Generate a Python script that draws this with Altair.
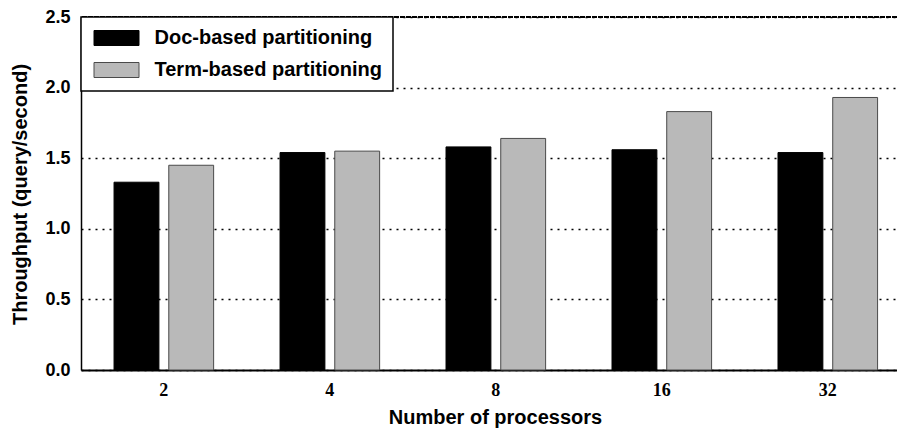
import altair as alt
import pandas as pd

processors = ["2", "4", "8", "16", "32"]
series = ["Doc-based partitioning", "Term-based partitioning"]
doc_based = [1.33, 1.54, 1.58, 1.56, 1.54]
term_based = [1.45, 1.55, 1.64, 1.83, 1.93]
y_ticks = [0.0, 0.5, 1.0, 1.5, 2.0, 2.5]
fill_colors = ["#000000", "#b9b9b9"]
stroke_colors = ["#000000", "#4a4a4a"]

rows = []
for p, d, t in zip(processors, doc_based, term_based):
    rows.append({"procs": p, "series": series[0], "value": d})
    rows.append({"procs": p, "series": series[1], "value": t})
df = pd.DataFrame(rows)

bars = alt.Chart(df).mark_bar(strokeWidth=1).encode(
    x=alt.X(
        "procs:N",
        sort=processors,
        scale=alt.Scale(paddingInner=0.4, paddingOuter=0.158, align=0.63),
        axis=alt.Axis(
            title="Number of processors",
            labelAngle=0,
            labelFont="Liberation Serif",
            labelFontWeight="bold",
            labelFontSize=18,
            labelColor="black",
            labelPadding=11,
            ticks=False,
            domainColor="black",
            domainWidth=2,
            grid=False,
            titleFont="Liberation Sans",
            titleFontWeight="bold",
            titleFontSize=20,
            titleColor="black",
            titlePadding=8,
            titleX=414,
        ),
    ),
    xOffset=alt.XOffset("series:N", sort=series, scale=alt.Scale(paddingInner=0.18)),
    y=alt.Y(
        "value:Q",
        scale=alt.Scale(domain=[0, 2.5], nice=False, zero=True),
        axis=alt.Axis(
            values=y_ticks,
            format=".1f",
            labelFont="Liberation Sans",
            labelFontWeight="bold",
            labelFontSize=18,
            labelColor="black",
            labelPadding=11,
            ticks=False,
            domainColor="black",
            domainWidth=1.5,
            grid=True,
            gridColor="black",
            gridDash=[2, 5],
            gridWidth=1.5,
            title="Throughput (query/second)",
            titleFont="Liberation Sans",
            titleFontWeight="bold",
            titleFontSize=20,
            titleColor="black",
            titleX=-61,
            titleY=177,
            titleAngle=270,
            titleAlign="center",
            titleBaseline="middle",
        ),
    ),
    color=alt.Color(
        "series:N",
        sort=series,
        scale=alt.Scale(domain=series, range=fill_colors),
        legend=alt.Legend(
            title=None,
            orient="none",
            legendX=0,
            legendY=0,
            direction="vertical",
            symbolType="M-3,-1L3,-1L3,1L-3,1Z",
            symbolSize=225,
            symbolStrokeWidth=1,
            symbolOffset=14.5,
            symbolOpacity=1,
            labelFont="Liberation Sans",
            labelFontWeight="bold",
            labelFontSize=20,
            labelColor="black",
            labelOffset=28,
            labelLimit=400,
            padding=11,
            rowPadding=12,
            strokeColor="black",
            fillColor="white",
        ),
    ),
    stroke=alt.Stroke(
        "series:N",
        sort=series,
        scale=alt.Scale(domain=series, range=stroke_colors),
    ),
)

top_line = alt.Chart(pd.DataFrame({"top": [y_ticks[-1]]})).mark_rule(
    color="black", strokeWidth=2, strokeDash=[5, 1]
).encode(y="top:Q")

chart = (
    alt.layer(bars, top_line)
    .properties(
        width=816,
        height=353,
        padding={"left": 73, "top": 9, "right": 0, "bottom": 60},
        autosize=alt.AutoSizeParams(type="none"),
    )
    .configure_view(stroke=None)
    .configure_legend(strokeWidth=1.5)
)

chart.save("out.html", embed_options={"renderer": "svg", "actions": False})
